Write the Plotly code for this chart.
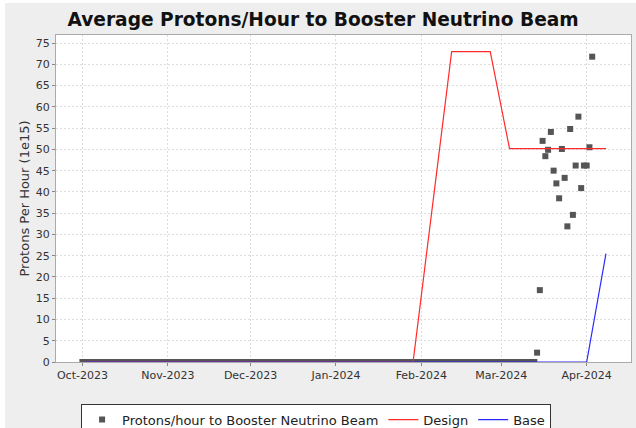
import pandas as pd
import plotly.graph_objects as go

# ---- data ----
# Daily average protons/hour (1e15): zeros from Oct 1 2023 to Mar 13 2024
zero_dates = pd.date_range("2023-10-01", "2024-03-13", freq="D")
zero_values = [0.0] * len(zero_dates)

beam_dates = [
    "2024-03-14", "2024-03-15", "2024-03-16", "2024-03-17", "2024-03-18",
    "2024-03-19", "2024-03-20", "2024-03-21", "2024-03-22", "2024-03-23",
    "2024-03-24", "2024-03-25", "2024-03-26", "2024-03-27", "2024-03-28",
    "2024-03-29", "2024-03-30", "2024-03-31", "2024-04-01", "2024-04-02",
    "2024-04-03",
]
beam_values = [
    2.2, 16.9, 52.0, 48.4, 49.9,
    54.1, 45.0, 42.0, 38.5, 50.1,
    43.3, 31.9, 54.8, 34.6, 46.2,
    57.7, 40.9, 46.2, 46.2, 50.5,
    71.8,
]

design_dates = ["2023-10-02", "2024-01-29", "2024-02-12", "2024-02-26", "2024-03-04", "2024-04-08"]
design_values = [0, 0, 73.0, 73.0, 50.2, 50.2]

base_dates = ["2023-10-02", "2024-04-01", "2024-04-08"]
base_values = [0, 0, 25.5]

x_range = ["2023-09-21 10:00", "2024-04-17 02:00"]
y_range = [0, 76.9]

all_dates = [d.strftime("%Y-%m-%d") for d in zero_dates] + beam_dates
all_values = zero_values + beam_values

FONT = "DejaVu Sans, Verdana, sans-serif"

fig = go.Figure()
fig.add_trace(go.Scatter(
    x=all_dates, y=all_values, mode="markers",
    name="Protons/hour to Booster Neutrino Beam",
    marker=dict(symbol="square", size=6, color="#555555", line=dict(width=0)),
))
fig.add_trace(go.Scatter(
    x=design_dates, y=design_values, mode="lines", name="Design",
    line=dict(color="#ff2a2a", width=1.2),
))
fig.add_trace(go.Scatter(
    x=base_dates, y=base_values, mode="lines", name="Base",
    line=dict(color="#2a2aff", width=1.2),
))

fig.update_layout(
    width=636, height=428,
    margin=dict(l=56, r=5, t=35, b=66),
    paper_bgcolor="#eeeeee",
    plot_bgcolor="#ffffff",
    font=dict(family=FONT, size=11, color="#333333"),
    title=dict(
        text="<b>Average Protons/Hour to Booster Neutrino Beam</b>",
        font=dict(family=FONT, size=18.6, color="#111111"),
        x=0.508, xanchor="center", xref="container",
        y=0.955, yanchor="middle", yref="container",
    ),
    showlegend=True,
    legend=dict(
        orientation="h",
        xref="container", yref="container",
        x=0.497, xanchor="center",
        y=0.057, yanchor="top",
        bgcolor="#ffffff", bordercolor="#333333", borderwidth=1,
        font=dict(family=FONT, size=13, color="#222222"),
        itemwidth=30,
        tracegroupgap=0,
    ),
    shapes=[
        # thin white outer margin at left and top
        dict(type="rect", xref="paper", yref="paper", x0=-0.12, x1=(5 - 56) / 575,
             y0=-0.25, y1=1.15, fillcolor="#ffffff", line=dict(width=0), layer="below"),
        dict(type="rect", xref="paper", yref="paper", x0=-0.12, x1=1.02,
             y0=(362 - 3) / 327, y1=1.15, fillcolor="#ffffff", line=dict(width=0), layer="below"),
    ],
)

fig.update_xaxes(
    range=x_range, type="date", automargin=False,
    dtick="M1", tick0="2023-10-01", tickformat="%b-%Y",
    showgrid=True, gridcolor="#dddddd", griddash="2px,2px", gridwidth=1,
    showline=True, linecolor="#aaaaaa", linewidth=1, mirror=True,
    ticks="outside", ticklen=3, tickcolor="#888888",
    tickfont=dict(family=FONT, size=11, color="#333333"),
    zeroline=False,
)
fig.update_yaxes(
    range=y_range, dtick=5, tick0=0, automargin=False,
    showgrid=True, gridcolor="#dddddd", griddash="2px,2px", gridwidth=1,
    showline=True, linecolor="#aaaaaa", linewidth=1, mirror=True,
    ticks="outside", ticklen=3, tickcolor="#888888",
    tickfont=dict(family=FONT, size=11, color="#333333"),
    title=dict(text="Protons Per Hour (1e15)", font=dict(family=FONT, size=13, color="#333333"), standoff=3),
    zeroline=False,
)

fig.write_html(
    "out.html",
    config={"displayModeBar": False},
    post_script="document.body.style.margin='0';document.body.style.overflow='hidden';",
)
